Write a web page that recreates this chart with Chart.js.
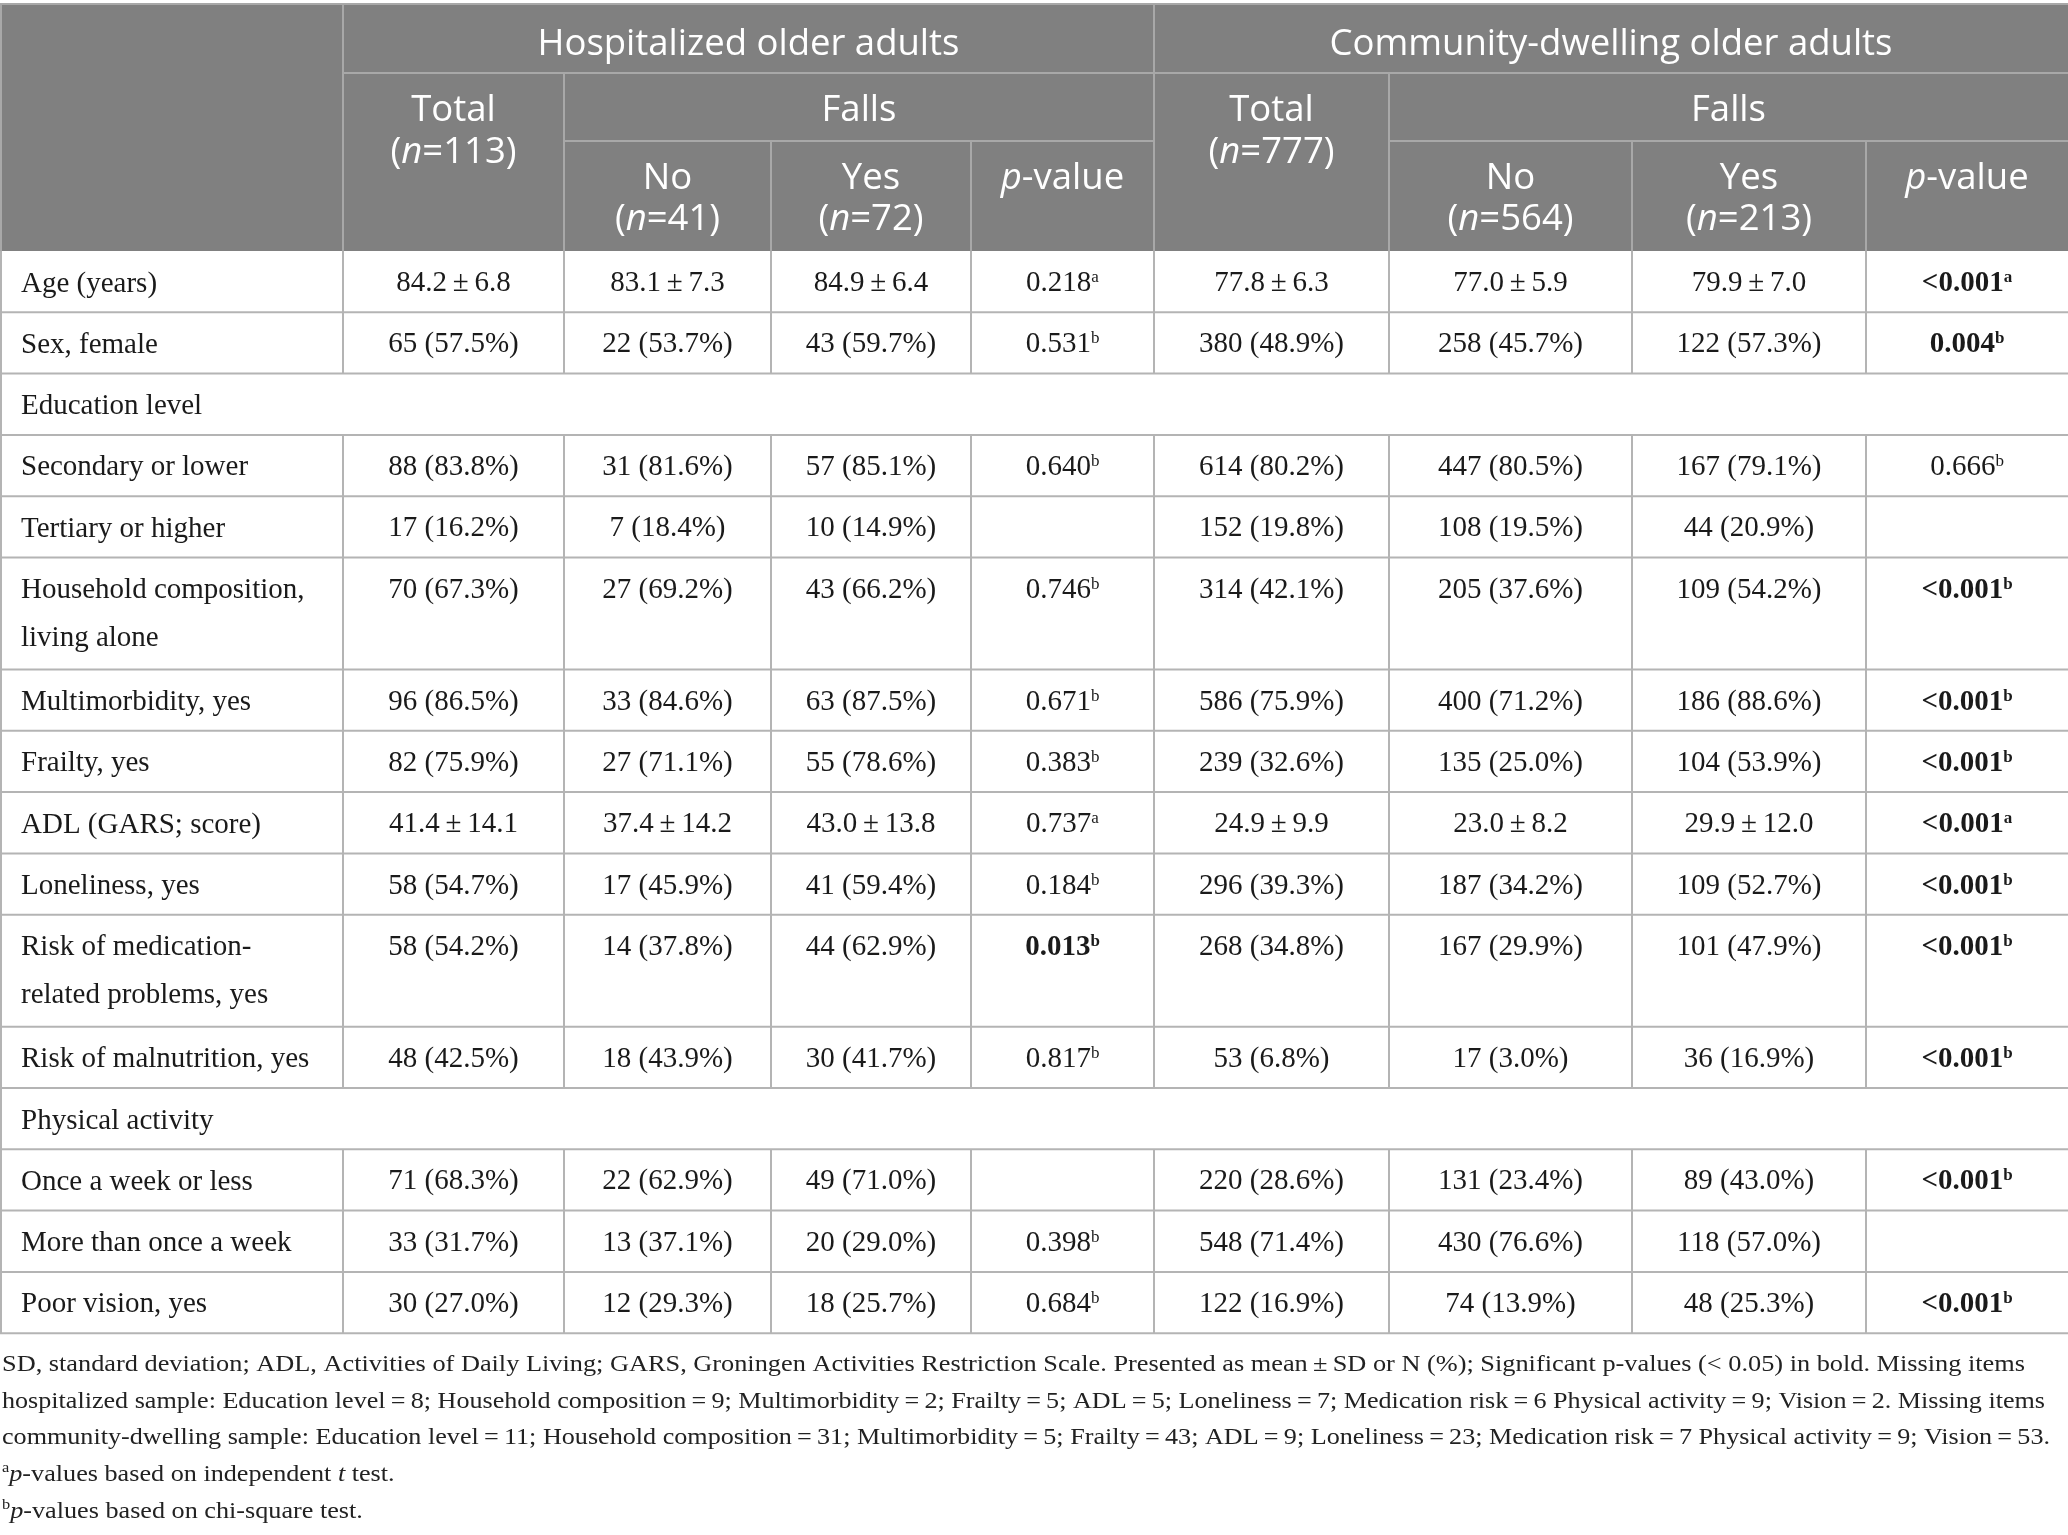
<!DOCTYPE html>
<html><head><meta charset="utf-8">
<script src="https://cdn.jsdelivr.net/npm/chart.js@4.4.1/dist/chart.umd.min.js"></script>
<style>html,body{margin:0;padding:0;background:#fff;overflow:hidden}#wrap{width:2068px;height:1535px}</style>
</head><body><div id="wrap"><canvas id="c" width="2068" height="1535"></canvas></div>
<script>
// ---------------- DATA ----------------
const groupTitles = ["Hospitalized older adults", "Community-dwelling older adults"];
const totalN = [113, 777];
const noN = [41, 564];
const yesN = [72, 213];

const rowLabels = ["Age (years)", "Sex, female", "Education level", "Secondary or lower", "Tertiary or higher",
  "Household composition,\nliving alone", "Multimorbidity, yes", "Frailty, yes", "ADL (GARS; score)",
  "Loneliness, yes", "Risk of medication-\nrelated problems, yes", "Risk of malnutrition, yes",
  "Physical activity", "Once a week or less", "More than once a week", "Poor vision, yes"];

const hospTotal = ["84.2 ± 6.8", "65 (57.5%)", "", "88 (83.8%)", "17 (16.2%)", "70 (67.3%)", "96 (86.5%)", "82 (75.9%)", "41.4 ± 14.1", "58 (54.7%)", "58 (54.2%)", "48 (42.5%)", "", "71 (68.3%)", "33 (31.7%)", "30 (27.0%)"];
const hospNo    = ["83.1 ± 7.3", "22 (53.7%)", "", "31 (81.6%)", "7 (18.4%)", "27 (69.2%)", "33 (84.6%)", "27 (71.1%)", "37.4 ± 14.2", "17 (45.9%)", "14 (37.8%)", "18 (43.9%)", "", "22 (62.9%)", "13 (37.1%)", "12 (29.3%)"];
const hospYes   = ["84.9 ± 6.4", "43 (59.7%)", "", "57 (85.1%)", "10 (14.9%)", "43 (66.2%)", "63 (87.5%)", "55 (78.6%)", "43.0 ± 13.8", "41 (59.4%)", "44 (62.9%)", "30 (41.7%)", "", "49 (71.0%)", "20 (29.0%)", "18 (25.7%)"];
const hospP     = ["0.218", "0.531", "", "0.640", "", "0.746", "0.671", "0.383", "0.737", "0.184", "0.013", "0.817", "", "", "0.398", "0.684"];
const hospTest  = ["a", "b", "", "b", "", "b", "b", "b", "a", "b", "b", "b", "", "", "b", "b"];

const commTotal = ["77.8 ± 6.3", "380 (48.9%)", "", "614 (80.2%)", "152 (19.8%)", "314 (42.1%)", "586 (75.9%)", "239 (32.6%)", "24.9 ± 9.9", "296 (39.3%)", "268 (34.8%)", "53 (6.8%)", "", "220 (28.6%)", "548 (71.4%)", "122 (16.9%)"];
const commNo    = ["77.0 ± 5.9", "258 (45.7%)", "", "447 (80.5%)", "108 (19.5%)", "205 (37.6%)", "400 (71.2%)", "135 (25.0%)", "23.0 ± 8.2", "187 (34.2%)", "167 (29.9%)", "17 (3.0%)", "", "131 (23.4%)", "430 (76.6%)", "74 (13.9%)"];
const commYes   = ["79.9 ± 7.0", "122 (57.3%)", "", "167 (79.1%)", "44 (20.9%)", "109 (54.2%)", "186 (88.6%)", "104 (53.9%)", "29.9 ± 12.0", "109 (52.7%)", "101 (47.9%)", "36 (16.9%)", "", "89 (43.0%)", "118 (57.0%)", "48 (25.3%)"];
const commP     = ["<0.001", "0.004", "", "0.666", "", "<0.001", "<0.001", "<0.001", "<0.001", "<0.001", "<0.001", "<0.001", "", "<0.001", "", "<0.001"];
const commTest  = ["a", "b", "", "b", "", "b", "b", "b", "a", "b", "b", "b", "", "b", "", "b"];

const footnotes = [
  "SD, standard deviation; ADL, Activities of Daily Living; GARS, Groningen Activities Restriction Scale. Presented as mean\u2009±\u2009SD or N (%); Significant p-values (< 0.05) in bold. Missing items",
  "hospitalized sample: Education level\u2009=\u20098; Household composition\u2009=\u20099; Multimorbidity\u2009=\u20092; Frailty\u2009=\u20095; ADL\u2009=\u20095; Loneliness\u2009=\u20097; Medication risk\u2009=\u20096 Physical activity\u2009=\u20099; Vision\u2009=\u20092. Missing items",
  "community-dwelling sample: Education level\u2009=\u200911; Household composition\u2009=\u200931; Multimorbidity\u2009=\u20095; Frailty\u2009=\u200943; ADL\u2009=\u20099; Loneliness\u2009=\u200923; Medication risk\u2009=\u20097 Physical activity\u2009=\u20099; Vision\u2009=\u200953."
];
const testNotes = [["a", "p", "-values based on independent ", "t", " test."], ["b", "p", "-values based on chi-square test."]];

// ---------------- LAYOUT / STYLE ----------------
const W = 2068, H = 1535;
const colWidths = [343, 221, 207, 200, 183, 235, 243, 234, 202];
const colEdges = [0]; colWidths.forEach(w => colEdges.push(colEdges[colEdges.length - 1] + w));
const headTop = 4, headRow1 = 73, headRow2 = 141, headBottom = 251;
const rowSingle = 61.3, rowExtra = 50.7;
const HEAD_BG = "#808080", HEAD_LINE = "#a8a8a8", BODY_LINE = "#b4b4b4";
const SANS = "'Open Sans', 'Noto Sans', sans-serif";
const SERIF = "'Liberation Serif', 'Times New Roman', serif";
const BODY_SIZE = 29, HEAD_SIZE = 36.5, NOTE_SIZE = 24, SUP_SIZE = 17;
const noteBase = [1371, 1407.7, 1444.4, 1481, 1517.8];
const noteTargets = [2023, 2043, 2048];

const columns = [hospTotal, hospNo, hospYes, hospP, commTotal, commNo, commYes, commP];
const rowEdges = [headBottom];
rowLabels.forEach(l => rowEdges.push(rowEdges[rowEdges.length - 1] + rowSingle + (l.split("\n").length - 1) * rowExtra));

const isSection = r => columns.every(c => c[r] === "");
const isSig = p => p.startsWith("<") || parseFloat(p) < 0.05;

// one invisible point per body cell, positioned on the table's own scales
const cellPoints = [];
rowLabels.forEach((l, r) => {
  columns.forEach((col, c) => {
    if (col[r] !== "") cellPoints.push({ x: (colEdges[c + 1] + colEdges[c + 2]) / 2, y: rowEdges[r] + rowSingle / 2, r, c });
  });
});

function fontStr(s) {
  return `${s.italic ? "italic " : ""}${s.bold ? "bold " : ""}${s.weight ? s.weight + " " : ""}${s.size}px ${s.family}`;
}
function drawRuns(ctx, segs, x, y, align) {
  let total = 0;
  segs.forEach(s => { ctx.font = fontStr(s); s.w = ctx.measureText(s.t).width; total += s.w; });
  let cx = align === "center" ? x - total / 2 : x;
  ctx.textAlign = "left";
  segs.forEach(s => { ctx.font = fontStr(s); ctx.fillText(s.t, cx, y - (s.rise || 0)); cx += s.w; });
}

const tablePlugin = {
  id: "tablePlugin",
  beforeDraw(chart) {
    const ctx = chart.ctx;
    ctx.save(); ctx.fillStyle = "#fff"; ctx.fillRect(0, 0, chart.width, chart.height); ctx.restore();
  },
  afterDraw(chart) {
    const ctx = chart.ctx, xs = chart.scales.x, ys = chart.scales.y;
    const X = v => xs.getPixelForValue(v), Y = v => ys.getPixelForValue(v);
    const E = colEdges;
    ctx.save();
    // header background
    ctx.fillStyle = HEAD_BG;
    ctx.fillRect(X(0), Y(headTop), X(W) - X(0), Y(headBottom) - Y(headTop));
    // header lines
    ctx.strokeStyle = HEAD_LINE; ctx.lineWidth = 2;
    const seg = (x1, y1, x2, y2) => { ctx.beginPath(); ctx.moveTo(X(x1), Y(y1)); ctx.lineTo(X(x2), Y(y2)); ctx.stroke(); };
    seg(0, headTop, W, headTop);
    seg(E[1], headRow1, W, headRow1);
    seg(E[2], headRow2, E[5], headRow2);
    seg(E[6], headRow2, W, headRow2);
    seg(E[1], headTop, E[1], headBottom);
    seg(E[5], headTop, E[5], headBottom);
    seg(E[2], headRow1, E[2], headBottom);
    seg(E[6], headRow1, E[6], headBottom);
    [3, 4, 7, 8].forEach(i => seg(E[i], headRow2, E[i], headBottom));
    seg(1, headTop, 1, headBottom);

    // header text
    ctx.fillStyle = "#ffffff";
    const hs = (t, o) => Object.assign({ t, size: HEAD_SIZE, family: SANS, weight: 400 }, o || {});
    [0, 1].forEach(g => {
      const b = g === 0 ? 1 : 5;
      drawRuns(ctx, [hs(groupTitles[g])], X((E[b] + E[b + 4]) / 2), Y(55), "center");
      const tc = X((E[b] + E[b + 1]) / 2);
      drawRuns(ctx, [hs("Total")], tc, Y(121), "center");
      drawRuns(ctx, [hs("("), hs("n", { italic: true }), hs("=" + totalN[g] + ")")], tc, Y(163), "center");
      drawRuns(ctx, [hs("Falls")], X((E[b + 1] + E[b + 4]) / 2), Y(121), "center");
      const nc = X((E[b + 1] + E[b + 2]) / 2), yc = X((E[b + 2] + E[b + 3]) / 2), pc = X((E[b + 3] + E[b + 4]) / 2);
      drawRuns(ctx, [hs("No")], nc, Y(189), "center");
      drawRuns(ctx, [hs("("), hs("n", { italic: true }), hs("=" + noN[g] + ")")], nc, Y(230), "center");
      drawRuns(ctx, [hs("Yes")], yc, Y(189), "center");
      drawRuns(ctx, [hs("("), hs("n", { italic: true }), hs("=" + yesN[g] + ")")], yc, Y(230), "center");
      drawRuns(ctx, [hs("p", { italic: true }), hs("-value")], pc, Y(189), "center");
    });

    // body lines
    ctx.strokeStyle = BODY_LINE; ctx.lineWidth = 2;
    rowEdges.forEach((ry, i) => { if (i > 0) seg(0, ry, W, ry); });
    seg(1, headBottom, 1, rowEdges[rowEdges.length - 1]);
    rowLabels.forEach((l, r) => {
      if (isSection(r)) return;
      for (let i = 1; i < E.length - 1; i++) seg(E[i], rowEdges[r], E[i], rowEdges[r + 1]);
    });

    // body text
    ctx.fillStyle = "#1a1a1a";
    const bs = (t, o) => Object.assign({ t, size: BODY_SIZE, family: SERIF }, o || {});
    rowLabels.forEach((l, r) => {
      l.split("\n").forEach((line, k) => drawRuns(ctx, [bs(line)], X(21), Y(rowEdges[r] + 40.5 + k * 48), "left"));
    });
    const meta = chart.getDatasetMeta(0);
    meta.data.forEach((el, i) => {
      const p = cellPoints[i];
      const val = columns[p.c][p.r];
      const base = el.y + 9.5;
      if (p.c === 3 || p.c === 7) {
        const test = (p.c === 3 ? hospTest : commTest)[p.r];
        const bold = isSig(val);
        drawRuns(ctx, [bs(val, { bold }), bs(test, { bold, size: SUP_SIZE, rise: 9 })], el.x, base, "center");
      } else {
        drawRuns(ctx, [bs(val.replace(" ± ", "\u2009±\u2009"))], el.x, base, "center");
      }
    });

    // footnotes
    ctx.fillStyle = "#222";
    ctx.textAlign = "left";
    let sxs = [];
    footnotes.forEach((t, i) => {
      ctx.font = `${NOTE_SIZE}px ${SERIF}`;
      const w = ctx.measureText(t).width;
      const sx = noteTargets[i] / w; sxs.push(sx);
      ctx.save(); ctx.translate(X(2), Y(noteBase[i])); ctx.scale(sx, 1); ctx.fillText(t, 0, 0); ctx.restore();
    });
    const sxAvg = sxs.reduce((a, b) => a + b, 0) / sxs.length;
    testNotes.forEach((n, j) => {
      ctx.save(); ctx.translate(X(2), Y(noteBase[3 + j])); ctx.scale(sxAvg, 1);
      const ns = (t, o) => Object.assign({ t, size: NOTE_SIZE, family: SERIF }, o || {});
      const segs = [ns(n[0], { size: 15, rise: 9 }), ns(n[1], { italic: true }), ns(n[2])];
      if (n.length > 3) { segs.push(ns(n[3], { italic: true })); segs.push(ns(n[4])); }
      drawRuns(ctx, segs, 0, 0, "left");
      ctx.restore();
    });
    ctx.restore();
  }
};

new Chart(document.getElementById("c").getContext("2d"), {
  type: "scatter",
  data: { datasets: [{ data: cellPoints, pointRadius: 0, pointHoverRadius: 0 }] },
  options: {
    responsive: false, animation: false, devicePixelRatio: 1, events: [],
    layout: { padding: 0 },
    plugins: { legend: { display: false }, tooltip: { enabled: false } },
    scales: {
      x: { type: "linear", min: 0, max: W, display: false },
      y: { type: "linear", min: 0, max: H, reverse: true, display: false }
    }
  },
  plugins: [tablePlugin]
});
</script></body></html>
